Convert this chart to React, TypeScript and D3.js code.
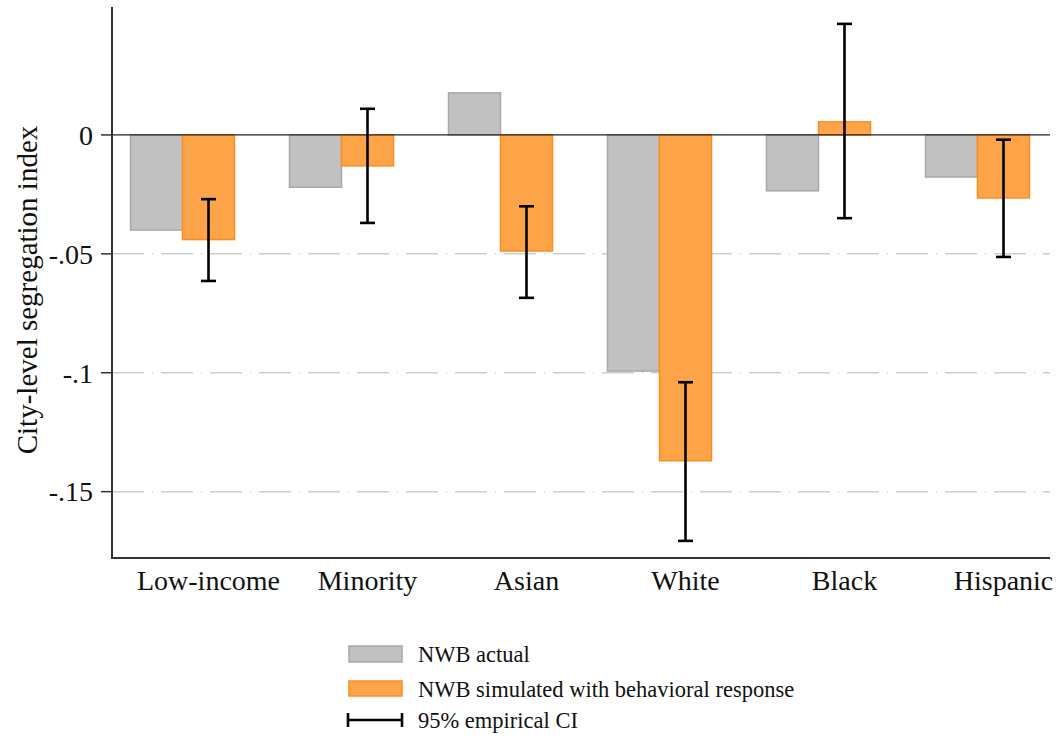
import React from "react";
import * as d3 from "d3";

const categories = ["Low-income", "Minority", "Asian", "White", "Black", "Hispanic"];
const actual = [-0.040, -0.022, 0.0177, -0.0993, -0.0235, -0.0177];
const simulated = [-0.044, -0.013, -0.0488, -0.137, 0.0055, -0.0265];
const ciLow = [-0.0614, -0.037, -0.0685, -0.1707, -0.035, -0.0513];
const ciHigh = [-0.027, 0.011, -0.030, -0.104, 0.0467, -0.002];
const yTicks = [0, -0.05, -0.1, -0.15];
const yTickLabels = ["0", "-.05", "-.1", "-.15"];

const FONT = "'Liberation Serif', 'Times New Roman', serif";

export default function App() {
  const W = 1060, H = 738;
  const left = 112, right = 1050, top = 7, bottom = 558;
  const y = d3.scaleLinear().domain([-0.1779, 0.0538]).range([bottom, top]);
  const x = d3.scaleBand<string>().domain(categories).range([103, 1057]);
  const bw = 52;
  const center = (c: string) => (x(c) as number) + x.bandwidth() / 2;
  const grayFill = "#c1c1c1", grayStroke = "#a9a9a9";
  const orFill = "#fda448", orStroke = "#fd8c20";

  return (
    <svg width={W} height={H} style={{ position: "absolute", left: 0, top: 0, background: "#fff" }}>
      {yTicks.filter(t => t !== 0).map(t => (
        <line key={t} x1={left} x2={right} y1={y(t)} y2={y(t)} stroke="#cfcfcf" strokeWidth={1.5} strokeDasharray="32 8 1 8" />
      ))}
      {categories.map((c, i) => {
        const cx = center(c);
        const a = actual[i], s = simulated[i];
        return (
          <g key={c}>
            <rect x={cx - bw} y={Math.min(y(a), y(0))} width={bw} height={Math.abs(y(a) - y(0))}
              fill={grayFill} stroke={grayStroke} strokeWidth={1.5} />
            <rect x={cx} y={Math.min(y(s), y(0))} width={bw} height={Math.abs(y(s) - y(0))}
              fill={orFill} stroke={orStroke} strokeWidth={1.5} />
          </g>
        );
      })}
      <line x1={left} x2={right} y1={y(0)} y2={y(0)} stroke="#222" strokeWidth={1.2} />
      {categories.map((c, i) => {
        const ex = center(c) + bw / 2;
        return (
          <g key={c} stroke="#000" strokeWidth={2.6}>
            <line x1={ex} x2={ex} y1={y(ciLow[i])} y2={y(ciHigh[i])} />
            <line x1={ex - 7.5} x2={ex + 7.5} y1={y(ciLow[i])} y2={y(ciLow[i])} />
            <line x1={ex - 7.5} x2={ex + 7.5} y1={y(ciHigh[i])} y2={y(ciHigh[i])} />
          </g>
        );
      })}
      <line x1={left} x2={left} y1={top} y2={bottom} stroke="#333" strokeWidth={2} />
      <line x1={left - 1} x2={right} y1={bottom} y2={bottom} stroke="#333" strokeWidth={2} />
      {yTicks.map((t, i) => (
        <g key={t}>
          <line x1={left - 11} x2={left} y1={y(t)} y2={y(t)} stroke="#333" strokeWidth={1.5} />
          <text x={93} y={y(t)} dy="0.35em" textAnchor="end" fontFamily={FONT} fontSize={28} fill="#111">{yTickLabels[i]}</text>
        </g>
      ))}
      <text transform={`translate(37, 290) rotate(-90)`} textAnchor="middle" fontFamily={FONT} fontSize={29} fill="#111">
        City-level segregation index
      </text>
      {categories.map(c => (
        <text key={c} x={center(c) + bw / 2} y={590} textAnchor="middle" fontFamily={FONT} fontSize={28} fill="#111">{c}</text>
      ))}
      <g fontFamily={FONT} fontSize={22.5} fill="#111">
        <rect x={349} y={646} width={53} height={16} fill={grayFill} stroke={grayStroke} strokeWidth={1.5} />
        <text x={418} y={662}>NWB actual</text>
        <rect x={349} y={681} width={53} height={15} fill={orFill} stroke={orStroke} strokeWidth={1.5} />
        <text x={418} y={697}>NWB simulated with behavioral response</text>
        <g stroke="#000" strokeWidth={2.6}>
          <line x1={348} x2={402} y1={720} y2={720} />
          <line x1={348} x2={348} y1={713} y2={727} />
          <line x1={402} x2={402} y1={713} y2={727} />
        </g>
        <text x={418} y={728}>95% empirical CI</text>
      </g>
    </svg>
  );
}
